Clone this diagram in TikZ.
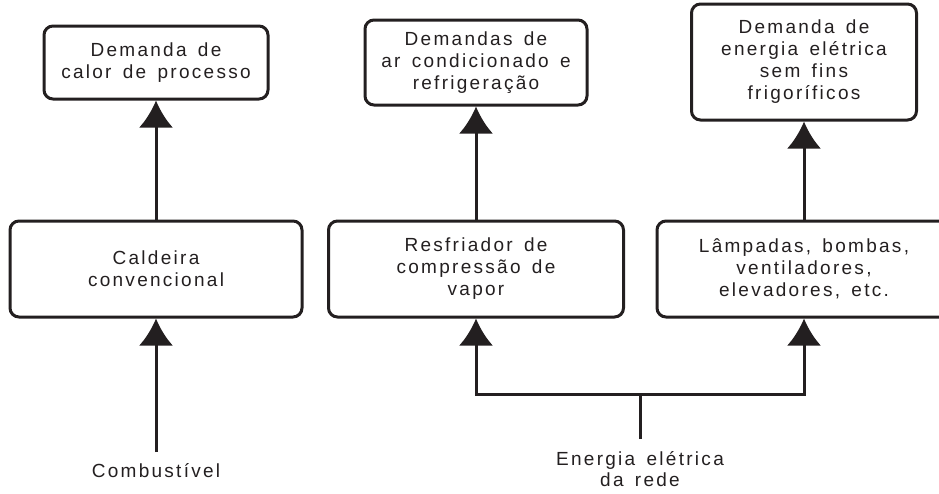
\documentclass[tikz,border=0pt]{standalone}
\usepackage{fontspec}
\setmainfont[LetterSpace=12,WordSpace=1.5]{Liberation Sans}
\usetikzlibrary{arrows.meta}
\definecolor{ink}{HTML}{231F20}
\begin{document}
\begin{tikzpicture}[x=1pt,y=-1pt,
  box/.style={draw=ink,line width=3pt,rounded corners=9pt,align=center,
    text=ink,font=\fontsize{19}{22}\selectfont,inner sep=0pt},
  lbl/.style={align=center,text=ink,font=\fontsize{19}{21}\selectfont},
  conn/.style={draw=ink,line width=3pt},
  arr/.style={conn,-{Latex[width=34pt,length=27pt]}}]
\useasboundingbox (0,0) rectangle (939,493);
\clip (0,0) rectangle (939,493);
\node[box,minimum width=224pt,minimum height=73pt] (d1) at (156,62.5) {Demanda de\\calor de processo};
\node[box,minimum width=222pt,minimum height=85pt] (d2) at (476,62.5) {Demandas de\\ar condicionado e\\refrigeração};
\node[box,minimum width=225pt,minimum height=116pt] (d3) at (804,62) {Demanda de\\energia elétrica\\sem fins\\frigoríficos};
\node[box,minimum width=292pt,minimum height=96pt] (c1) at (156,269) {Caldeira\\convencional};
\node[box,minimum width=295pt,minimum height=96pt] (c2) at (476,269) {Resfriador de\\compressão de\\vapor};
\node[box,minimum width=294pt,minimum height=96pt] (c3) at (804,269) {Lâmpadas, bombas,\\ventiladores,\\elevadores, etc.};
\node[lbl] (comb) at (156,471) {Combustível};
\node[lbl] (ener) at (640,469) {Energia elétrica\\da rede};
\coordinate (combtop) at (156,452);
\coordinate (etop) at (640,439);
\coordinate (bj) at (640,394);
\draw[arr] (c1.north) -- (d1.south);
\draw[arr] (c2.north) -- (d2.south);
\draw[arr] (c3.north) -- (d3.south);
\draw[arr] (combtop) -- (c1.south);
\draw[conn] (etop) -- (bj);
\draw[arr] (bj) -| (c2.south);
\draw[arr] (bj) -| (c3.south);
\end{tikzpicture}
\end{document}
